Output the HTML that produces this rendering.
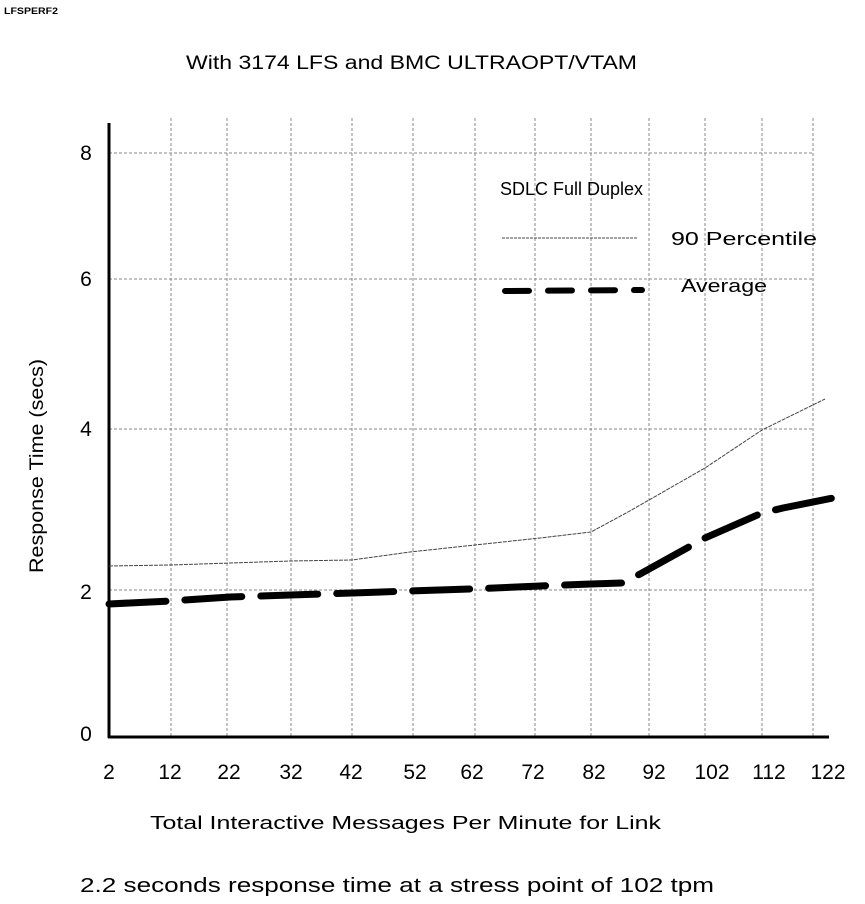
<!DOCTYPE html>
<html><head><meta charset="utf-8"><style>
body{margin:0;background:#fff;}
svg{display:block;font-family:"Liberation Sans",sans-serif;}
</style></head><body>
<svg width="865" height="904" viewBox="0 0 865 904">
<text x="4" y="14" font-size="9" font-weight="bold" fill="#000" textLength="54" lengthAdjust="spacingAndGlyphs">LFSPERF2</text>
<text x="186" y="69" font-size="19" textLength="451" lengthAdjust="spacingAndGlyphs">With 3174 LFS and BMC ULTRAOPT/VTAM</text>
<g stroke="#888" stroke-width="1" stroke-dasharray="3,2" fill="none">
<line x1="109" y1="153" x2="813" y2="153"/>
<line x1="109" y1="279" x2="813" y2="279"/>
<line x1="109" y1="429" x2="813" y2="429"/>
<line x1="109" y1="590" x2="813" y2="590"/>
<line x1="171" y1="118" x2="171" y2="737"/>
<line x1="227" y1="118" x2="227" y2="737"/>
<line x1="291" y1="118" x2="291" y2="737"/>
<line x1="352" y1="118" x2="352" y2="737"/>
<line x1="413" y1="118" x2="413" y2="737"/>
<line x1="475" y1="118" x2="475" y2="737"/>
<line x1="535" y1="118" x2="535" y2="737"/>
<line x1="591" y1="118" x2="591" y2="737"/>
<line x1="649" y1="118" x2="649" y2="737"/>
<line x1="705" y1="118" x2="705" y2="737"/>
<line x1="762" y1="118" x2="762" y2="737"/>
<line x1="813" y1="118" x2="813" y2="737"/>
</g>
<line x1="109" y1="123" x2="109" y2="738" stroke="#000" stroke-width="3"/>
<line x1="108" y1="737" x2="829" y2="737" stroke="#000" stroke-width="3"/>
<g font-size="21" text-anchor="middle">
<text x="86" y="160">8</text><text x="86" y="286">6</text><text x="86" y="436">4</text><text x="86" y="599">2</text><text x="86" y="741">0</text>
<text x="109" y="779">2</text><text x="170" y="779">12</text><text x="229" y="779">22</text><text x="291" y="779">32</text><text x="351" y="779">42</text><text x="415" y="779">52</text><text x="472" y="779">62</text><text x="533" y="779">72</text><text x="594" y="779">82</text><text x="654" y="779">92</text><text x="712" y="779">102</text><text x="769" y="779">112</text><text x="828" y="779">122</text>
</g>
<text x="43" y="466" font-size="19" text-anchor="middle" transform="rotate(-90 43 466)" textLength="214" lengthAdjust="spacingAndGlyphs">Response Time (secs)</text>
<text x="150" y="829" font-size="18" textLength="511" lengthAdjust="spacingAndGlyphs">Total Interactive Messages Per Minute for Link</text>
<text x="80" y="892" font-size="20" textLength="634" lengthAdjust="spacingAndGlyphs">2.2 seconds response time at a stress point of 102 tpm</text>
<text x="500" y="195" font-size="18" textLength="143" lengthAdjust="spacingAndGlyphs">SDLC Full Duplex</text>
<text x="671" y="245" font-size="18" textLength="146" lengthAdjust="spacingAndGlyphs">90 Percentile</text>
<text x="681" y="292" font-size="18" textLength="86" lengthAdjust="spacingAndGlyphs">Average</text>
<line x1="502" y1="238" x2="638" y2="238" stroke="#444" stroke-width="1" stroke-dasharray="3,1"/>
<line x1="505" y1="291" x2="642" y2="290" stroke="#000" stroke-width="6" stroke-linecap="round" stroke-dasharray="24,19"/>
<polyline fill="none" stroke="#444" stroke-width="1" stroke-dasharray="4,1" points="109,566 170,565 230,563 290,561 352,560 410,552 475,545 540,538 591,532 628,512 705,468 762,430 825,399"/>
<polyline fill="none" stroke="#000" stroke-width="7" stroke-linecap="round" stroke-dasharray="57,19" points="109,604 170,601 230,597 290,595 352,593 410,591 470,589 540,586 591,584 622,583 640,574 705,538 762,513 783,508 833,498"/>
</svg>
</body></html>
